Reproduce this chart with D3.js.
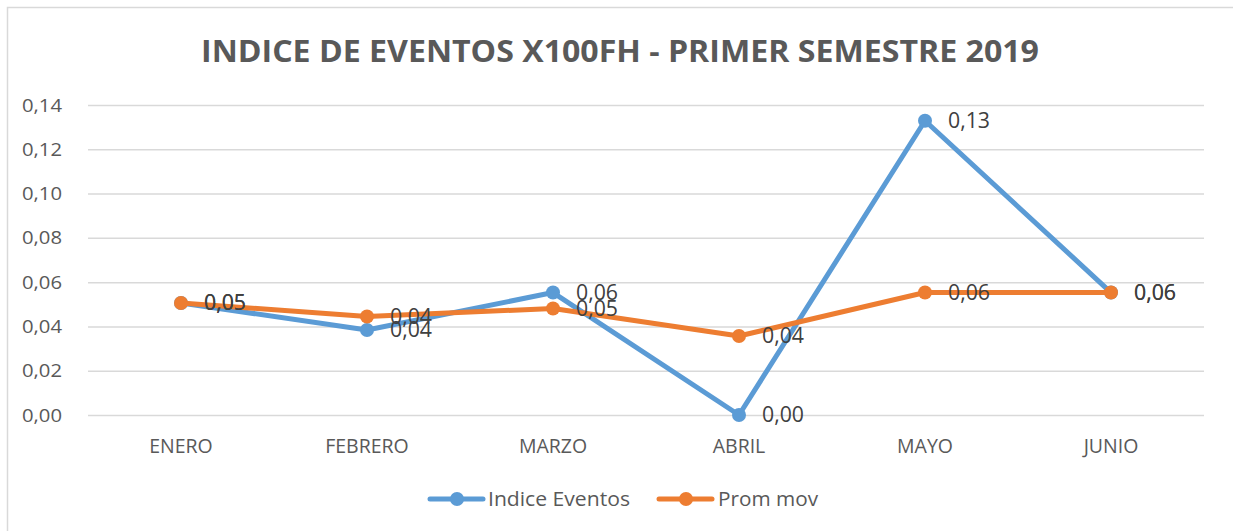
<!DOCTYPE html>
<html><head><meta charset="utf-8">
<script src="https://cdn.jsdelivr.net/npm/d3@7"></script>
<style>body{margin:0;background:#fff;} svg{display:block;font-family:"Open Sans",sans-serif;}</style>
</head><body>
<svg id="chart" width="1233" height="531"></svg>
<script>
const title = "INDICE DE EVENTOS X100FH - PRIMER SEMESTRE 2019";
const categories = ["ENERO","FEBRERO","MARZO","ABRIL","MAYO","JUNIO"];
const indiceEventos = [0.0506, 0.0384, 0.0553, 0.0000, 0.1329, 0.0553];
const promMov = [0.0506, 0.0445, 0.0481, 0.0357, 0.0553, 0.0553];
const yTicks = [0,0.02,0.04,0.06,0.08,0.10,0.12,0.14];
const seriesNames = ["Indice Eventos","Prom mov"];
const colors = ["#5B9BD5","#ED7D31"];

const svg = d3.select("#chart");
const fmt = v => d3.format(".2f")(v).replace(".", ",");

svg.append("rect").attr("x",7.5).attr("y",7.5).attr("width",1240).attr("height",540)
  .attr("fill","#fff").attr("stroke","#d9d9d9").attr("stroke-width",1.5);

const x = d3.scaleBand().domain(categories).range([88,1204]);
const y = d3.scaleLinear().domain([0,0.14]).range([415,105]);

svg.append("text").attr("x",620).attr("y",62).attr("text-anchor","middle")
  .attr("font-size",31).attr("font-weight","bold").attr("fill","#595959")
  .attr("textLength",838).attr("lengthAdjust","spacingAndGlyphs").text(title);

const gy = svg.append("g").attr("transform","translate(88,0)")
  .call(d3.axisLeft(y).tickValues(yTicks).tickFormat(fmt).tickSize(-1116).tickPadding(26));
gy.select(".domain").remove();
gy.selectAll(".tick line").attr("stroke","#d9d9d9").attr("stroke-width",1.5);
gy.selectAll(".tick text").attr("font-size",19).attr("fill","#595959").attr("font-family","Open Sans")
  .attr("textLength",40).attr("lengthAdjust","spacingAndGlyphs");

const gx = svg.append("g").attr("transform","translate(0,415)")
  .call(d3.axisBottom(x).tickSize(0).tickPadding(24));
gx.select(".domain").remove();
gx.selectAll(".tick text").attr("font-size",19.5).attr("fill","#595959").attr("font-family","Open Sans");

const data = [indiceEventos, promMov];
const line = d3.line().x((d,i)=>x(categories[i])+x.bandwidth()/2).y(d=>y(d));
data.forEach((vals,s)=>{
  const g = svg.append("g");
  g.append("path").datum(vals).attr("d",line).attr("fill","none")
    .attr("stroke",colors[s]).attr("stroke-width",5).attr("stroke-linejoin","round").attr("stroke-linecap","round");
  g.selectAll("circle").data(vals).join("circle")
    .attr("cx",(d,i)=>x(categories[i])+x.bandwidth()/2).attr("cy",d=>y(d)).attr("r",7).attr("fill",colors[s]);
});
data.forEach((vals,s)=>{
  svg.append("g").selectAll("text").data(vals).join("text")
    .attr("x",(d,i)=>x(categories[i])+x.bandwidth()/2+23).attr("y",d=>y(d)).attr("dy","0.35em")
    .attr("font-size",21).attr("fill","#404040").attr("textLength",42).attr("lengthAdjust","spacingAndGlyphs")
    .text(d=>fmt(d));
});

// legend
const leg = [{x:430,tx:488,w:142},{x:659,tx:718,w:100}];
seriesNames.forEach((n,s)=>{
  const g = svg.append("g");
  g.append("line").attr("x1",leg[s].x).attr("x2",leg[s].x+53).attr("y1",499).attr("y2",499)
    .attr("stroke",colors[s]).attr("stroke-width",5).attr("stroke-linecap","round");
  g.append("circle").attr("cx",leg[s].x+27).attr("cy",499).attr("r",7).attr("fill",colors[s]);
  g.append("text").attr("x",leg[s].tx).attr("y",499).attr("dy","0.35em").attr("font-size",20)
    .attr("fill","#595959").attr("textLength",leg[s].w).attr("lengthAdjust","spacingAndGlyphs").text(n);
});
</script>
</body></html>
